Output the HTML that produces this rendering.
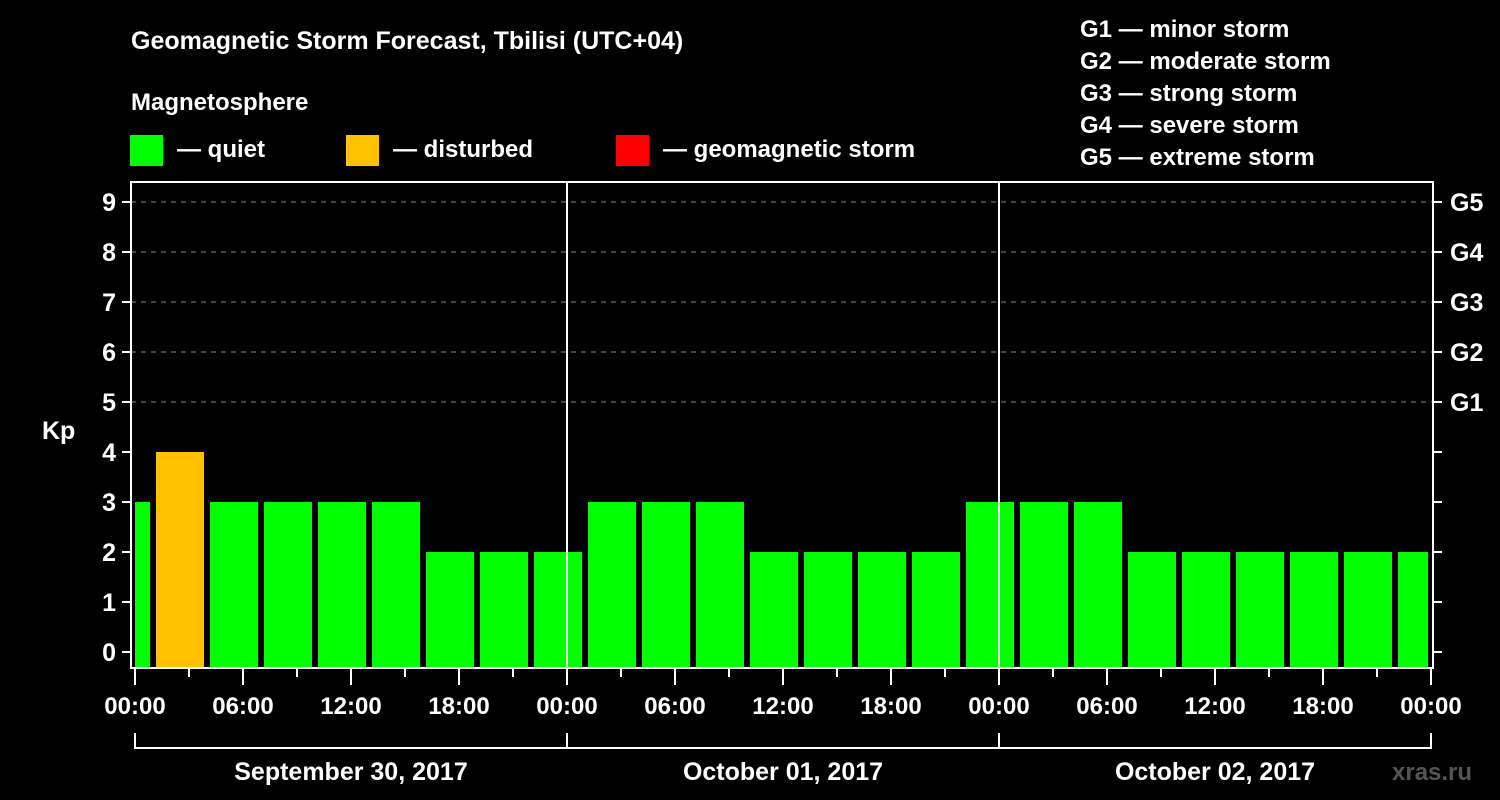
<!DOCTYPE html>
<html><head><meta charset="utf-8"><style>
html,body{margin:0;padding:0;background:#000;}
svg{display:block;font-family:"Liberation Sans",Arial,sans-serif;font-weight:bold;}
</style></head><body>
<svg id="chart" width="1500" height="800" viewBox="0 0 1500 800">
<rect x="0" y="0" width="1500" height="800" fill="#000"/>
<text x="131" y="49" fill="#fff" font-size="25">Geomagnetic Storm Forecast, Tbilisi (UTC+04)</text>
<text x="131" y="110" fill="#fff" font-size="24">Magnetosphere</text>
<g><rect x="130" y="135" width="33" height="31" fill="#00ff00"/><text x="177" y="157" fill="#fff" font-size="24">— quiet</text></g>
<g><rect x="346" y="135" width="33" height="31" fill="#ffc000"/><text x="393" y="157" fill="#fff" font-size="24">— disturbed</text></g>
<g><rect x="616" y="135" width="33" height="31" fill="#ff0000"/><text x="663" y="157" fill="#fff" font-size="24">— geomagnetic storm</text></g>
<g fill="#fff" font-size="24">
<text x="1080" y="37">G1 — minor storm</text>
<text x="1080" y="69">G2 — moderate storm</text>
<text x="1080" y="101">G3 — strong storm</text>
<text x="1080" y="133">G4 — severe storm</text>
<text x="1080" y="165">G5 — extreme storm</text>
</g>
<text x="42" y="439" fill="#fff" font-size="25">Kp</text>
<g id="grid"></g><g id="bars"></g><g id="axes"></g>
<text x="1392" y="780" fill="#555" font-size="24">xras.ru</text>
</svg>
<script>
const binStartHours=[-2,1,4,7,10,13,16,19,22,25,28,31,34,37,40,43,46,49,52,55,58,61,64,67,70];
const kpValues=[3,4,3,3,3,3,2,2,2,3,3,3,2,2,2,2,3,3,3,2,2,2,2,2,2];
const yTicks=[0,1,2,3,4,5,6,7,8,9];
const gLabels=["G1","G2","G3","G4","G5"];
const gLevels=[5,6,7,8,9];
const xLabels=["00:00","06:00","12:00","18:00","00:00","06:00","12:00","18:00","00:00","06:00","12:00","18:00","00:00"];
const dayLabels=["September 30, 2017","October 01, 2017","October 02, 2017"];
const NS="http://www.w3.org/2000/svg";
const L=131,R=1433,T=182,B=668;
const xs=h=>135+h*18;
const ys=v=>652-v*50;
function mk(tag,attrs,parent){const e=document.createElementNS(NS,tag);for(const k in attrs)e.setAttribute(k,attrs[k]);parent.appendChild(e);return e;}
const grid=document.getElementById('grid'),bars=document.getElementById('bars'),axes=document.getElementById('axes');
gLevels.forEach((v,i)=>{
  const l=mk('line',{x1:L,x2:R,y1:ys(v),y2:ys(v),stroke:'#888','stroke-dasharray':'5,5','stroke-width':1},grid);
  
  
  const t=mk('text',{x:1450,y:ys(v)+9,fill:'#fff','font-size':25},axes);
  t.textContent=gLabels[i];
  
  
});
binStartHours.forEach((h,i)=>{
  const s=Math.max(0,h),e=Math.min(72,h+3);
  const x1=(h<0?xs(0):xs(s)+3),x2=xs(e)-3;
  const v=kpValues[i];
  const col=v>=5?'#ff0000':(v>=4?'#ffc000':'#00ff00');
  const r=mk('rect',{x:x1,y:ys(v),width:x2-x1,height:B-ys(v),fill:col},bars);
  
  
});
[24,48].forEach(h=>{
  const l=mk('line',{x1:xs(h),x2:xs(h),y1:T,y2:B,stroke:'#fff','stroke-width':2},axes);
  
  
});
const frame=mk('rect',{x:L,y:T,width:R-L,height:B-T,fill:'none',stroke:'#fff','stroke-width':2},axes);


yTicks.forEach(v=>{
  mk('line',{x1:122,x2:L,y1:ys(v),y2:ys(v),stroke:'#fff','stroke-width':2},axes);
  mk('line',{x1:R,x2:1442,y1:ys(v),y2:ys(v),stroke:'#fff','stroke-width':2},axes);
  const t=mk('text',{x:116,y:ys(v)+9,fill:'#fff','font-size':25,'text-anchor':'end'},axes);
  t.textContent=v;
  
  
});
for(let h=0;h<=72;h+=3){
  const major=h%6===0;
  mk('line',{x1:xs(h),x2:xs(h),y1:B,y2:major?685:677,stroke:'#fff','stroke-width':2},axes);
}
xLabels.forEach((s,i)=>{
  const t=mk('text',{x:xs(i*6),y:714,fill:'#fff','font-size':24,'text-anchor':'middle'},axes);
  t.textContent=s;
  
  
});
mk('line',{x1:xs(0),x2:xs(72),y1:748,y2:748,stroke:'#fff','stroke-width':2},axes);
[0,24,48,72].forEach(h=>mk('line',{x1:xs(h),x2:xs(h),y1:733,y2:749,stroke:'#fff','stroke-width':2},axes));
dayLabels.forEach((s,i)=>{
  const t=mk('text',{x:xs(i*24+12),y:780,fill:'#fff','font-size':25,'text-anchor':'middle'},axes);
  t.textContent=s;
  
  
});
</script>
</body></html>
